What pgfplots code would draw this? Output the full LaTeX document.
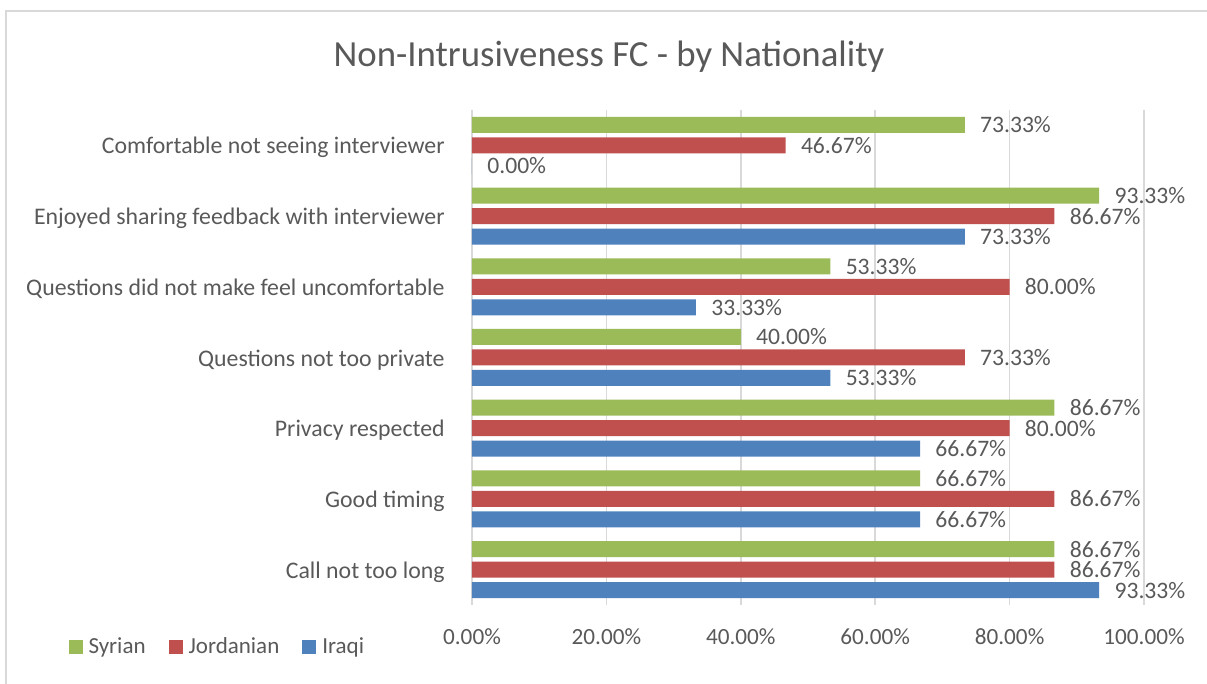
\documentclass[border=0pt]{standalone}
\usepackage{pgfplots}
\pgfplotsset{compat=1.18}
\usepackage{fontspec}
\setmainfont{Carlito}
\definecolor{cgreen}{HTML}{9BBB59}
\definecolor{cred}{HTML}{C0504D}
\definecolor{cblue}{HTML}{4F81BD}
\definecolor{textgray}{HTML}{595959}
\definecolor{gridgray}{HTML}{D9D9D9}
\begin{document}
\begin{tikzpicture}
\useasboundingbox (0,0) rectangle (603.5pt,342pt);
\begin{axis}[
  scale only axis,
  width=336pt, height=247.5pt,
  at={(236pt,39.5pt)}, anchor=south west,
  xbar, bar width=8pt,
  xmin=0, xmax=100, ymin=-0.5, ymax=6.5,
  enlargelimits=false,
  axis line style={draw=none},
  major tick length=0pt,
  xmajorgrids, ymajorgrids=false,
  grid style={gridgray, line width=0.75pt},
  xtick={0,20,40,60,80,100},
  xticklabels={0.00\%,20.00\%,40.00\%,60.00\%,80.00\%,100.00\%},
  ytick={0,1,2,3,4,5,6},
  yticklabels={Call not too long,Good timing,Privacy respected,Questions not too private,Questions did not make feel uncomfortable,Enjoyed sharing feedback with interviewer,Comfortable not seeing interviewer},
  ticklabel style={text=textgray, inner sep=0pt},
  xticklabel style={font=\fontsize{11.6}{13}\selectfont, anchor=base, yshift=-20pt},
  yticklabel style={font=\fontsize{11.9}{13}\selectfont, anchor=base east, xshift=-13.5pt, yshift=-4.3pt},
  point meta=x,
  /pgf/number format/assume math mode=true,
  nodes near coords={\pgfmathprintnumber[fixed,fixed zerofill,precision=2]{\pgfplotspointmeta}\%},
  nodes near coords style={anchor=west, inner sep=0pt, xshift=7.5pt, font=\fontsize{11.8}{13}\selectfont, text=textgray},
  legend columns=3,
  legend style={at={(axis description cs:-0.601,-0.0848)}, anchor=west, draw=none, fill=none, inner sep=0pt,
    nodes={inner sep=0pt, text=textgray, font=\fontsize{11.5}{13}\selectfont},
    /tikz/every odd column/.append style={column sep=3pt},
    /tikz/every even column/.append style={column sep=11.5pt}},
  legend image code/.code={\fill[#1] (0pt,-3.5pt) rectangle (7pt,3.5pt);},
]
\addplot[fill=cgreen, draw=none, bar shift=10.25pt] coordinates {(86.67,0) (66.67,1) (86.67,2) (40.00,3) (53.33,4) (93.33,5) (73.33,6)};
\addlegendentry{Syrian}
\addplot[fill=cred, draw=none, bar shift=0pt] coordinates {(86.67,0) (86.67,1) (80.00,2) (73.33,3) (80.00,4) (86.67,5) (46.67,6)};
\addlegendentry{Jordanian}
\addplot[fill=cblue, draw=none, bar shift=-10.25pt] coordinates {(93.33,0) (66.67,1) (66.67,2) (53.33,3) (33.33,4) (73.33,5) (0,6)};
\addlegendentry{Iraqi}
\end{axis}
\node[anchor=base, text=textgray, font=\fontsize{18.4}{22}\selectfont] at (304.5pt,308.5pt) {Non-Intrusiveness FC - by Nationality};
\draw[gridgray, line width=0.75pt] (3pt,0) -- (3pt,336.5pt) -- (603.5pt,336.5pt);
\end{tikzpicture}
\end{document}
